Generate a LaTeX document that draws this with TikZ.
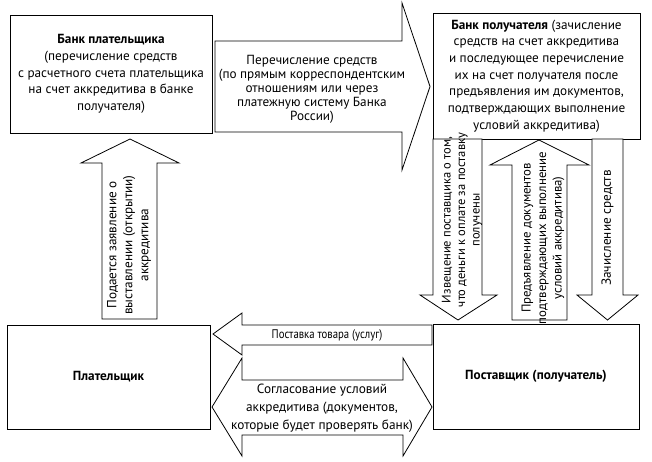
\documentclass[tikz,border=0pt]{standalone}
\usepackage{fontspec}
\setmainfont{PT Sans}
\newfontfamily\narrowfont[FakeStretch=0.86]{PT Sans}
\usetikzlibrary{positioning, calc}
\tikzset{
    box/.style = {draw=black, line width=0.8pt, inner sep=2pt, text centered,
        align=center, font=\fontsize{13.2}{16.7}\selectfont},
    blk/.style = {draw=black, line width=0.8pt, fill=white},
    lbl/.style = {align=center, inner sep=0pt, font=\fontsize{13.2}{15}\selectfont},
    vlbl/.style = {lbl, rotate=90},
}

\begin{document}
\begin{tikzpicture}[x=1pt, y=-1pt]
        \useasboundingbox (0,0) rectangle (652,461);
        % banks and clients
        \node [box, minimum width=202pt, minimum height=118pt] (bpay) at (111,74)
            {\textbf{Банк плательщика}\\(перечисление средств\\с расчетного счета плательщика\\на счет аккредитива в банке\\получателя)};
        \node [box, minimum width=207pt, minimum height=126pt] (brec) at (536.5,76)
            {\textbf{Банк получателя} (зачисление\\средств на счет аккредитива\\и последующее перечисление\\их на счет получателя после\\предъявления им документов,\\подтверждающих выполнение\\условий аккредитива)};
        \node [box, minimum width=203pt, minimum height=104pt] (payer) at (108.5,377) {\textbf{Плательщик}};
        \node [box, minimum width=206pt, minimum height=105pt] (supp) at (536,376.5) {\textbf{Поставщик (получатель)}};
        % block arrows
        \coordinate (tipM) at (430,86.5);
        \draw [blk] (tipM) -- (402,170) -- (402,132) -- (215,132) -- (215,41) -- (402,41) -- (402,3) -- cycle;
        \coordinate (tipU) at (130,139);
        \draw [blk] (tipU) -- (179,163) -- (157,163) -- (157,319) -- (102,319) -- (102,163) -- (81,163) -- cycle;
        \coordinate (tipA) at (458,320);
        \draw [blk] (tipA) -- (420,295) -- (433,295) -- (433,139) -- (482,139) -- (482,295) -- (497,295) -- cycle;
        \coordinate (tipB) at (539,140);
        \draw [blk] (tipB) -- (589,165) -- (567,165) -- (567,320) -- (512,320) -- (512,165) -- (490,165) -- cycle;
        \coordinate (tipC) at (607.5,320);
        \draw [blk] (tipC) -- (577,295) -- (592,295) -- (592,139) -- (623,139) -- (623,295) -- (638,295) -- cycle;
        \coordinate (tipL) at (213,334);
        \draw [blk] (tipL) -- (242,313) -- (242,325) -- (432,325) -- (432,345) -- (242,345) -- (242,355) -- cycle;
        \coordinate (tipDl) at (212,407);
        \coordinate (tipDr) at (432,407);
        \draw [blk] (tipDl) -- (242,358) -- (242,380) -- (403,380) -- (403,358) -- (tipDr)
            -- (403,456) -- (403,435) -- (242,435) -- (242,456) -- cycle;
        % arrow texts
        \node [lbl, font=\fontsize{13.2}{14}\selectfont] (transfer) at (312,89)
            {Перечисление средств\\(по прямым корреспондентским\\отношениям или через\\платежную систему Банка\\России)};
        \node [vlbl, font=\fontsize{13.2}{16}\selectfont] (apply) at (129,245)
            {Подается заявление о\\выставлении (открытии)\\аккредитива};
        \node [vlbl, font=\fontsize{12.5}{14.5}\selectfont] (notice) at (462,220)
            {Извещение поставщика о том,\\что деньги к оплате за поставку\\получены};
        \node [vlbl, font=\fontsize{12.8}{15.5}\selectfont] (docs) at (543,238)
            {Предъявление документов\\подтверждающих выполнение\\условий аккредитива)};
        \node [vlbl] (credit) at (607.5,228) {Зачисление средств};
        \node [lbl, font=\narrowfont\fontsize{12.5}{15}\selectfont] (goods) at (327,335) {Поставка товара (услуг)};
        \node [lbl, font=\fontsize{13.3}{18}\selectfont] (agree) at (322,408)
            {Согласование условий\\аккредитива (документов,\\которые будет проверять банк)};
\end{tikzpicture}
\end{document}
